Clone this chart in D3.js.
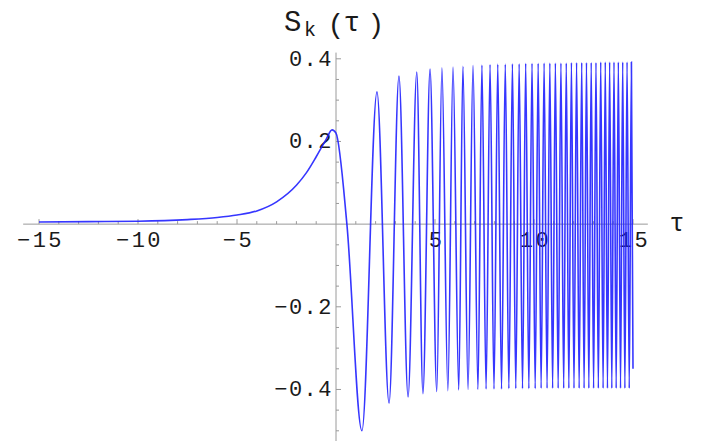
<!DOCTYPE html>
<html>
<head>
<meta charset="utf-8">
<script src="https://cdn.jsdelivr.net/npm/d3@7"></script>
<style>
  body { margin: 0; background: #fff; }
  text { font-family: "Liberation Mono", "DejaVu Sans Mono", monospace; fill: #1a1a1a; }
</style>
</head>
<body>
<script>
var w = 707, h = 441;

// extremes and a few points along the curve
var tau = [-15, -12.5, -10, -7.5, -6, -5, -4, -3, -2, -1.5, -1, -0.5, -0.2, 0, 0.55,
  1.31, 2.07, 2.68, 3.18, 3.64, 4.08, 4.39, 4.75, 5.09, 5.35, 5.65, 5.91, 6.2, 6.41, 6.67,
  6.92, 7.17, 7.37, 7.58, 7.78, 7.98, 8.17, 8.36, 8.55, 8.73, 8.91, 9.08, 9.25, 9.42, 9.58,
  9.74, 9.9, 10.06, 10.21, 10.36, 10.51, 10.66, 10.8, 10.94, 11.08, 11.22, 11.36, 11.5, 11.63,
  11.76, 11.89, 12.02, 12.15, 12.28, 12.41, 12.53, 12.65, 12.77, 12.89, 13.01, 13.13, 13.25,
  13.37, 13.49, 13.6, 13.71, 13.82, 13.93, 14.04, 14.15, 14.26, 14.37, 14.48, 14.59, 14.7,
  14.81, 14.92, 15];
var sk = [0.005, 0.006, 0.007, 0.011, 0.016, 0.022, 0.032, 0.054, 0.094, 0.124, 0.163, 0.205, 0.228, 0.22, 0,
  -0.5, 0.32, -0.433, 0.358, -0.418, 0.368, -0.41, 0.375, -0.405, 0.378, -0.403, 0.38, -0.401, 0.382, -0.4,
  0.384, -0.4, 0.385, -0.399, 0.386, -0.399, 0.387, -0.399, 0.387, -0.398, 0.388, -0.398, 0.388, -0.398, 0.389,
  -0.398, 0.389, -0.398, 0.389, -0.397, 0.39, -0.397, 0.39, -0.397, 0.39, -0.397, 0.39, -0.397, 0.39,
  -0.397, 0.391, -0.397, 0.391, -0.397, 0.391, -0.397, 0.391, -0.397, 0.391, -0.397, 0.391, -0.397,
  0.392, -0.397, 0.392, -0.397, 0.392, -0.397, 0.392, -0.397, 0.392, -0.397, 0.392, -0.397, 0.392,
  -0.397, 0.392, -0.35];

var xLabels = [-15, -10, -5, 5, 10, 15];
var yLabels = [0.4, 0.2, -0.2, -0.4];

var x = d3.scaleLinear().domain([-15, 15]).range([39, 633]);
var y = d3.scaleLinear().domain([-0.5, 0.4]).range([430.8, 58.8]);

var svg = d3.select('body').append('svg').attr('width', w).attr('height', h);

var axisColor = '#9a9a9a';

// axes crossing at the origin
svg.append('line')
  .attr('x1', x(-15.8)).attr('x2', x(15.75))
  .attr('y1', y(0)).attr('y2', y(0))
  .attr('stroke', axisColor).attr('stroke-width', 1);
svg.append('line')
  .attr('x1', x(0)).attr('x2', x(0))
  .attr('y1', y(0.415)).attr('y2', h)
  .attr('stroke', axisColor).attr('stroke-width', 1);

// x ticks, every unit, longer at multiples of 5
svg.selectAll('.xt').data(d3.range(-15, 16, 1).filter(function (d) { return d != 0; }))
  .enter().append('line')
  .attr('x1', function (d) { return x(d); })
  .attr('x2', function (d) { return x(d); })
  .attr('y1', y(0))
  .attr('y2', function (d) { return y(0) - (d % 5 == 0 ? 5 : 3); })
  .attr('stroke', axisColor);

// y ticks every 0.05
svg.selectAll('.yt').data(d3.range(-10, 9, 1).filter(function (d) { return d != 0; }))
  .enter().append('line')
  .attr('y1', function (d) { return y(d * 0.05); })
  .attr('y2', function (d) { return y(d * 0.05); })
  .attr('x1', x(0))
  .attr('x2', function (d) { return x(0) + (d % 4 == 0 ? 5 : 3); })
  .attr('stroke', axisColor);

svg.selectAll('.xl').data(xLabels)
  .enter().append('text')
  .attr('x', function (d) { return x(d) + 1.5; })
  .attr('y', 247)
  .attr('text-anchor', 'middle')
  .attr('font-size', '22px')
  .attr('letter-spacing', '2.5px')
  .text(function (d) { return d < 0 ? '\u2212' + (-d) : d; });

svg.selectAll('.yl').data(yLabels)
  .enter().append('text')
  .attr('x', x(0) - 3)
  .attr('y', function (d) { return y(d) + 7; })
  .attr('text-anchor', 'end')
  .attr('font-size', '22px')
  .attr('letter-spacing', '1.5px')
  .text(function (d) { return (d < 0 ? '\u2212' : '') + Math.abs(d).toFixed(1); });

// axis names
svg.append('text').attr('x', 284).attr('y', 31).attr('font-size', '29px').text('S');
svg.append('text').attr('x', 304).attr('y', 36).attr('font-size', '20px').text('k');
svg.append('text').attr('x', 336).attr('y', 33).attr('text-anchor', 'middle').attr('font-size', '28px').text('(');
svg.append('text').attr('x', 352).attr('y', 31).attr('text-anchor', 'middle').attr('font-size', '28px').text('\u03c4');
svg.append('text').attr('x', 376).attr('y', 33).attr('text-anchor', 'middle').attr('font-size', '28px').text(')');
svg.append('text').attr('x', 677).attr('y', 231).attr('text-anchor', 'middle').attr('font-size', '25px').text('\u03c4');

// curve
var pts = tau.map(function (t, i) { return [t, sk[i]]; });
var line = d3.line()
  .x(function (d) { return x(d[0]); })
  .y(function (d) { return y(d[1]); })
  .curve(d3.curveMonotoneX);

svg.append('path')
  .attr('d', line(pts))
  .attr('fill', 'none')
  .attr('stroke', '#2020ff')
  .attr('stroke-width', 1.6)
  .attr('stroke-opacity', 0.9);
</script>
</body>
</html>
